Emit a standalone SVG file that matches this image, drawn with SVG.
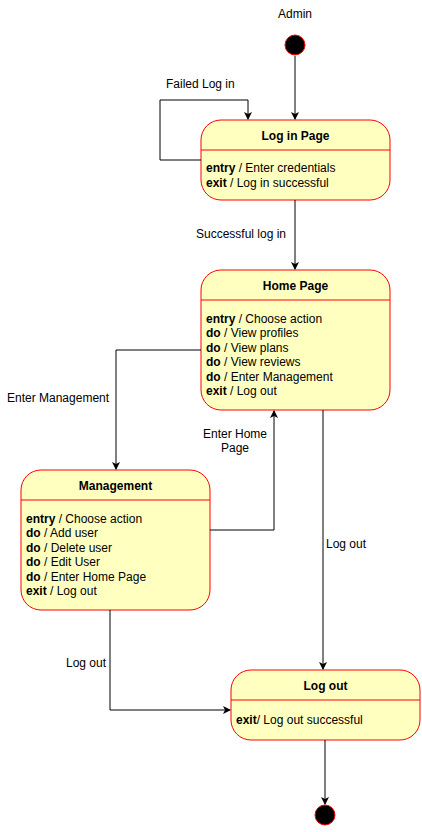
<svg xmlns="http://www.w3.org/2000/svg" width="422" height="832" viewBox="0 0 422 832">
<style>
text{font-family:"Liberation Sans",Arial,sans-serif;font-size:12px;fill:#000}
.t{font-weight:bold;text-anchor:middle}
.b{font-weight:bold}
.c{text-anchor:middle}
.st{fill:#FFFFC0;stroke:#FF0000;stroke-width:1}
.dv{stroke:#FF0000;stroke-width:1}
.e{fill:none;stroke:#000;stroke-width:1}
.pt{fill:#000;stroke:#FF0000;stroke-width:1}
</style>
<defs>
<marker id="a" markerWidth="10" markerHeight="10" refX="7" refY="5" orient="auto" markerUnits="userSpaceOnUse">
<path d="M0,1 L8,5 L0,9 L2,5 Z" fill="#000"/>
</marker>
</defs>
<text class="c" x="295" y="18">Admin</text>
<g id="start"><circle class="pt" cx="295" cy="45" r="10"/></g>
<g id="end"><circle class="pt" cx="325" cy="815" r="10"/></g>
<g id="login">
<rect class="st" x="201" y="120" width="189" height="80" rx="20"/>
<line class="dv" x1="201" y1="150" x2="390" y2="150"/>
<text class="t" x="295.5" y="140">Log in Page</text>
<text x="206" y="172"><tspan class="b">entry</tspan> / Enter credentials</text>
<text x="206" y="187"><tspan class="b">exit</tspan> / Log in successful</text>
</g>
<g id="home">
<rect class="st" x="201" y="270" width="189" height="140" rx="20"/>
<line class="dv" x1="201" y1="300" x2="390" y2="300"/>
<text class="t" x="295.5" y="290">Home Page</text>
<text x="206" y="323"><tspan class="b">entry</tspan> / Choose action</text>
<text x="206" y="337"><tspan class="b">do</tspan> / View profiles</text>
<text x="206" y="352"><tspan class="b">do</tspan> / View plans</text>
<text x="206" y="366"><tspan class="b">do</tspan> / View reviews</text>
<text x="206" y="381"><tspan class="b">do</tspan> / Enter Management</text>
<text x="206" y="395"><tspan class="b">exit</tspan> / Log out</text>
</g>
<g id="management">
<rect class="st" x="21" y="470" width="189" height="140" rx="20"/>
<line class="dv" x1="21" y1="500" x2="210" y2="500"/>
<text class="t" x="115.5" y="490">Management</text>
<text x="26" y="523"><tspan class="b">entry</tspan> / Choose action</text>
<text x="26" y="537"><tspan class="b">do</tspan> / Add user</text>
<text x="26" y="552"><tspan class="b">do</tspan> / Delete user</text>
<text x="26" y="566"><tspan class="b">do</tspan> / Edit User</text>
<text x="26" y="581"><tspan class="b">do</tspan> / Enter Home Page</text>
<text x="26" y="595"><tspan class="b">exit</tspan> / Log out</text>
</g>
<g id="logout">
<rect class="st" x="231" y="670" width="189" height="70" rx="20"/>
<line class="dv" x1="231" y1="700" x2="420" y2="700"/>
<text class="t" x="325.5" y="690">Log out</text>
<text x="236" y="724"><tspan class="b">exit</tspan>/ Log out successful</text>
</g>
<g id="connectors">
<path class="e" d="M295,56 V119" marker-end="url(#a)"/>
<path class="e" d="M201,160 H160 V100 H248 V119" marker-end="url(#a)"/>
<text x="166" y="88">Failed Log in</text>
<path class="e" d="M295,200 V269" marker-end="url(#a)"/>
<text x="196" y="238">Successful log in</text>
<path class="e" d="M201,350 H116 V469" marker-end="url(#a)"/>
<text x="7" y="402">Enter Management</text>
<path class="e" d="M210,530 H274 V411" marker-end="url(#a)"/>
<text class="c" x="235" y="438">Enter Home</text>
<text class="c" x="235" y="452">Page</text>
<path class="e" d="M323,410 V669" marker-end="url(#a)"/>
<text x="326" y="548">Log out</text>
<path class="e" d="M110,610 V710 H230" marker-end="url(#a)"/>
<text x="66" y="667">Log out</text>
<path class="e" d="M325,740 V804" marker-end="url(#a)"/>
</g>
</svg>
